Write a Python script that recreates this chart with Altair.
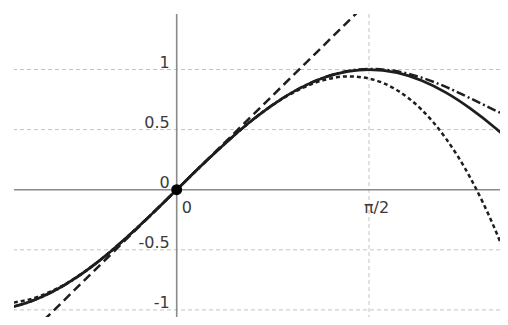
import altair as alt
import pandas as pd

# sample positions (x) and values
xs = [-1.33, -1.2, -1.0, -0.8, -0.6, -0.4, -0.2, 0.0, 0.2, 0.4, 0.6, 0.8, 1.0,
      1.2, 1.4, 1.5708, 1.8, 2.0, 2.2, 2.4, 2.6, 2.7]
sin_vals = [-0.971, -0.932, -0.841, -0.717, -0.565, -0.389, -0.199, 0.0, 0.199, 0.389,
            0.565, 0.717, 0.841, 0.932, 0.985, 1.0, 0.974, 0.909, 0.808, 0.675, 0.516, 0.427]
cubic_vals = [-0.938, -0.912, -0.833, -0.715, -0.564, -0.389, -0.199, 0.0, 0.199, 0.389,
              0.564, 0.715, 0.833, 0.912, 0.943, 0.925, 0.828, 0.667, 0.425, 0.096, -0.329, -0.581]
quintic_vals = [-0.973, -0.933, -0.842, -0.718, -0.565, -0.389, -0.199, 0.0, 0.199, 0.389,
                0.565, 0.718, 0.842, 0.933, 0.988, 1.005, 0.985, 0.933, 0.855, 0.760, 0.661, 0.615]
line_x = [-1.33, 2.7]
line_y = [-1.33, 2.7]

grid_y = [1, 0.5, -0.5, -1]
grid_x = [1.5708]
ylabel_vals = [1, 0.5, 0, -0.5, -1]
ylabel_text = ["1", "0.5", "0", "-0.5", "-1"]
xlabel_vals = [0, 1.5708]
xlabel_text = ["0", "π/2"]

XD = [-1.329, 2.641]
YD = [-1.059, 1.462]
xs_ = alt.Scale(domain=XD, nice=False, zero=False)
ys_ = alt.Scale(domain=YD, nice=False, zero=False)

ink = "#1e1e1e"
label_color = "#3a3a3a"
FONT = "DejaVu Sans"
FS = 16

def curve(xv, yv, dash=None, width=2.4):
    df = pd.DataFrame({"x": xv, "y": yv})
    kw = dict(color=ink, strokeWidth=width, clip=True, interpolate="monotone")
    if dash:
        kw["strokeDash"] = dash
    return alt.Chart(df).mark_line(**kw).encode(
        x=alt.X("x:Q", scale=xs_, axis=None),
        y=alt.Y("y:Q", scale=ys_, axis=None),
    )

hgrid = alt.Chart(pd.DataFrame({"y": grid_y})).mark_rule(
    color="#c4c4c4", strokeWidth=1, strokeDash=[4, 3]
).encode(y=alt.Y("y:Q", scale=ys_, axis=None))
vgrid = alt.Chart(pd.DataFrame({"x": grid_x})).mark_rule(
    color="#c4c4c4", strokeWidth=1, strokeDash=[4, 3]
).encode(x=alt.X("x:Q", scale=xs_, axis=None))

xaxis = alt.Chart(pd.DataFrame({"y": [0]})).mark_rule(
    color="#8a8a8a", strokeWidth=1.6
).encode(y=alt.Y("y:Q", scale=ys_, axis=None))
yaxis = alt.Chart(pd.DataFrame({"x": [0]})).mark_rule(
    color="#8a8a8a", strokeWidth=1.6
).encode(x=alt.X("x:Q", scale=xs_, axis=None))

ylabels = alt.Chart(pd.DataFrame({"y": ylabel_vals, "t": ylabel_text, "x": [0] * 5})).mark_text(
    align="right", baseline="alphabetic", dx=-7, dy=-2, fontSize=FS, font=FONT, color=label_color
).encode(
    x=alt.X("x:Q", scale=xs_, axis=None),
    y=alt.Y("y:Q", scale=ys_, axis=None),
    text="t:N",
)
xlab_df = pd.DataFrame({"x": xlabel_vals, "t": xlabel_text, "y": [0, 0]})
xlabel0 = alt.Chart(xlab_df.iloc[[0]]).mark_text(
    align="left", baseline="alphabetic", dx=5, dy=23, fontSize=FS, font=FONT, color=label_color
).encode(x=alt.X("x:Q", scale=xs_, axis=None), y=alt.Y("y:Q", scale=ys_, axis=None), text="t:N")
xlabel1 = alt.Chart(xlab_df.iloc[[1]]).mark_text(
    align="left", baseline="alphabetic", dx=-5, dy=23, fontSize=FS, font=FONT, color=label_color
).encode(x=alt.X("x:Q", scale=xs_, axis=None), y=alt.Y("y:Q", scale=ys_, axis=None), text="t:N")

dot = alt.Chart(pd.DataFrame({"x": [0], "y": [0]})).mark_circle(
    color="#000000", size=120, opacity=1
).encode(x=alt.X("x:Q", scale=xs_, axis=None), y=alt.Y("y:Q", scale=ys_, axis=None))

chart = alt.layer(
    hgrid, vgrid, xaxis, yaxis, ylabels, xlabel0, xlabel1,
    curve(line_x, line_y, dash=[9, 5], width=2.5),
    curve(xs, cubic_vals, dash=[4, 3], width=2.5),
    curve(xs, quintic_vals, dash=[9, 3, 2, 3], width=2.5),
    curve(xs, sin_vals, width=2.7),
    dot,
).properties(
    width=486, height=303,
    autosize=alt.AutoSizeParams(type="none"),
    padding={"left": 6, "top": 6, "right": 0, "bottom": 0},
).configure_view(stroke=None)

chart.save("out.html", embed_options={"renderer": "svg", "actions": False})
